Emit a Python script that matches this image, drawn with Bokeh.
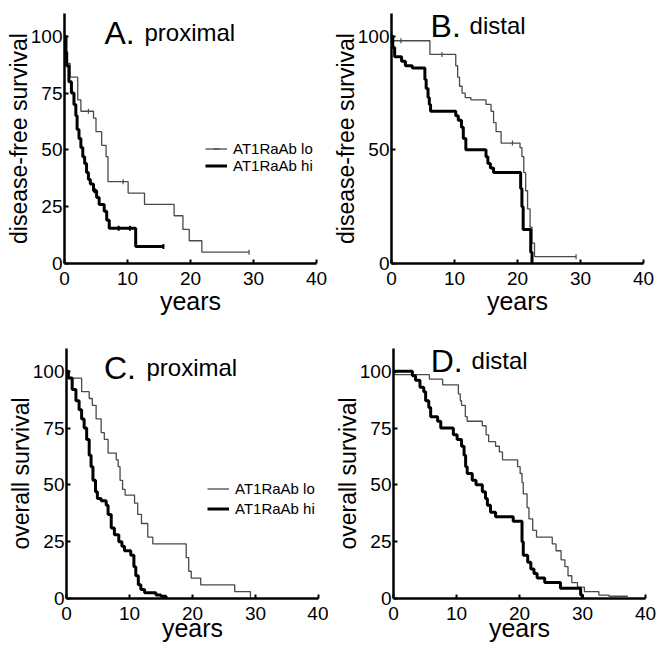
import numpy as np
from bokeh.plotting import figure
from bokeh.models import Range1d, FixedTicker, Label, Legend, LegendItem
from bokeh.layouts import row, column
from bokeh.embed import file_html
from bokeh.resources import INLINE

FONT = "Liberation Sans"

# ---------------- data ----------------
year_ticks = [0, 10, 20, 30, 40]
surv_ticks = [0, 25, 50, 75, 100]
surv_ticks_b = [0, 50, 100]
legend_labels = ["AT1RaAb lo", "AT1RaAb hi"]

# A. proximal, disease-free survival
a_lo_t = [0, 0.4, 0.9, 2.1, 2.6, 4.6, 5.0, 5.9, 6.6, 6.9, 10.1, 12.7, 17.4, 18.8, 19.8, 21.8, 29.3]
a_lo_s = [100, 88, 82, 72, 67, 64, 58, 52, 47, 36, 31, 26, 21, 15, 10, 5, 5]
a_lo_cens = [3.8, 9.3, 29.3]
a_hi_t = [0, 0.15, 0.35, 0.7, 1.1, 1.5, 1.8, 2.0, 2.3, 2.6, 2.9, 3.2, 3.5, 3.8, 4.1, 4.6, 5.1, 5.5, 6.3, 6.7, 7.1, 11.3, 15.7]
a_hi_s = [100, 93, 87, 80, 75, 70, 65, 59, 55, 51, 47, 44, 40, 37, 35, 32, 29, 26, 23, 19, 15.5, 7.5, 7.5]
a_hi_cens = [4.8, 8.6, 10.4, 15.7]

# B. distal, disease-free survival
b_lo_t = [0, 0.3, 6.1, 10.2, 10.5, 10.8, 11.2, 11.7, 12.6, 15.0, 15.8, 16.2, 16.6, 17.4, 20.4, 20.7, 21.0, 21.3, 21.6, 22.0, 22.3, 22.7, 29.3]
b_lo_s = [100, 98, 92, 87, 82, 78, 75, 73, 72, 70, 67, 62, 58, 53, 51, 47, 40, 32, 24, 16, 9, 3, 3]
b_lo_cens = [1.5, 8.0, 19.2, 29.3]
b_hi_t = [0, 0.2, 0.5, 1.6, 2.2, 3.3, 5.3, 5.5, 5.8, 6.0, 6.2, 10.2, 10.6, 11.1, 11.4, 11.8, 15.0, 15.3, 15.7, 16.2, 20.5, 20.7, 20.9, 22.1, 22.3]
b_hi_s = [100, 95, 91, 89, 87, 86, 81, 77, 73, 70, 67, 65, 63, 60, 55, 50, 47, 44, 42, 40, 33, 25, 15, 5, 0]
b_hi_cens = []

# C. proximal, overall survival
c_lo_t = [0, 0.3, 2.4, 3.6, 4.1, 4.7, 5.5, 6.0, 6.6, 7.9, 8.2, 8.5, 8.9, 9.3, 10.8, 11.3, 11.9, 12.9, 13.7, 19.0, 19.4, 19.8, 21.3, 26.7, 29.2]
c_lo_s = [100, 97, 91, 88, 85, 79, 73, 70, 64, 61, 58, 52, 48, 45.5, 42, 37, 33, 27, 24, 18, 12, 9, 6, 3, 0]
c_lo_cens = []
c_hi_t = [0, 0.3, 0.9, 1.5, 2.0, 2.4, 2.8, 3.2, 3.6, 3.9, 4.2, 4.6, 4.9, 5.5, 6.3, 6.6, 7.1, 7.6, 8.3, 8.8, 9.2, 10.2, 10.7, 11.0, 11.4, 11.8, 12.4, 14.2, 15.0, 15.8]
c_hi_s = [100, 97, 92, 87, 83, 79, 75, 70, 63, 58, 52, 47, 44, 43, 41, 37, 31, 28, 25, 23, 21, 19, 14, 10, 6, 4, 2.5, 1.5, 1, 0]
c_hi_cens = []

# D. distal, overall survival
d_lo_t = [0, 0.2, 5.7, 7.8, 10.3, 10.6, 10.8, 11.4, 11.7, 14.1, 14.7, 15.1, 16.2, 16.8, 17.3, 19.7, 20.1, 20.4, 20.6, 21.2, 21.5, 22.1, 22.7, 25.2, 25.8, 26.6, 27.2, 27.7, 28.3, 29.2, 30.3, 32.6, 34.2, 37.2]
d_lo_s = [100, 98.5, 96.5, 94, 90, 87, 85, 80, 78, 76, 72, 69, 67, 64.5, 61, 58, 55, 51, 46, 40, 35, 30, 27, 24, 21, 17, 14, 10, 7, 5, 3, 1.5, 1, 1]
d_lo_cens = []
d_hi_t = [0, 3.0, 3.5, 4.2, 4.8, 5.1, 5.6, 5.9, 7.0, 7.5, 9.5, 10.1, 10.8, 11.2, 11.45, 11.7, 12.5, 13.1, 14.1, 14.6, 14.9, 15.4, 16.2, 19.0, 20.4, 20.6, 21.3, 21.8, 22.3, 22.8, 24.0, 26.5, 29.7, 30.0]
d_hi_s = [100, 98, 96, 93, 91, 87, 84, 80, 78, 75, 72, 70, 67, 63, 58, 55, 52, 50, 47, 44, 41, 38, 36, 34, 25, 19, 16, 13, 11, 9, 7, 4.5, 1.5, 0]
d_hi_cens = []

LO_COLOR = "#4a4a4a"
HI_COLOR = "#000000"


def km_at(t, s, tc):
    t = np.asarray(t, dtype=float)
    s = np.asarray(s, dtype=float)
    idx = np.searchsorted(t, np.asarray(tc, dtype=float), side="right") - 1
    idx = np.clip(idx, 0, len(s) - 1)
    return s[idx].tolist()


def make_panel(lo, hi, letter, word, ylabel, yticks, width, height, borders,
               letter_pos, word_x, xlabel_standoff, legend_loc=None, legend_spacing=0):
    left, right, top, bottom = borders
    p = figure(width=width, height=height, output_backend="svg", toolbar_location=None,
               x_range=Range1d(0, 40), y_range=Range1d(0, 110),
               min_border_left=left, min_border_right=right,
               min_border_top=top, min_border_bottom=bottom,
               background_fill_color="white", border_fill_color="white")
    p.outline_line_color = None
    p.grid.visible = False

    renderers = []
    for (t, s, cens), color, lw, cw in ((lo, LO_COLOR, 1.3, 1.2), (hi, HI_COLOR, 3.0, 2.0)):
        r1 = p.step(t, s, mode="after", line_color=color, line_width=lw)
        r2 = p.scatter(list(cens), km_at(t, s, cens), marker="dash", angle=np.pi / 2,
                       size=5, line_color=color, line_width=cw)
        renderers.append((r1, r2))

    for ax in (p.xaxis[0], p.yaxis[0]):
        ax.axis_line_width = 2.5
        ax.axis_line_color = "black"
        ax.major_tick_in = 4
        ax.major_tick_out = 0
        ax.major_tick_line_width = 2
        ax.major_tick_line_color = "black"
        ax.minor_tick_line_color = None
        ax.major_label_text_font = FONT
        ax.major_label_text_color = "black"
        ax.major_label_text_font_size = "19px"
        ax.axis_label_text_font = FONT
        ax.axis_label_text_font_style = "normal"
        ax.axis_label_text_color = "black"

    p.xaxis.ticker = FixedTicker(ticks=year_ticks)
    p.xaxis.axis_label = "years"
    p.xaxis.axis_label_text_font_size = "25px"
    p.xaxis.major_label_standoff = 8
    p.xaxis.axis_label_standoff = xlabel_standoff

    p.yaxis.ticker = FixedTicker(ticks=yticks)
    p.yaxis.axis_label = ylabel
    p.yaxis.axis_label_text_font_size = "23px"
    p.yaxis.major_label_standoff = 2
    p.yaxis.axis_label_standoff = -4

    lx, ly = letter_pos
    p.add_layout(Label(x=lx, y=ly, text=letter, text_font=FONT, text_font_size="32px",
                       text_color="black", text_baseline="alphabetic", text_align="left"))
    p.add_layout(Label(x=word_x, y=ly, text=word, text_font=FONT, text_font_size="24px",
                       text_color="black", text_baseline="alphabetic", text_align="left"))

    if legend_loc is not None:
        items = [LegendItem(label=lab, renderers=list(rr)) for lab, rr in zip(legend_labels, renderers)]
        leg = Legend(items=items, location=legend_loc, orientation="vertical",
                     padding=0, margin=0, spacing=legend_spacing,
                     glyph_width=22, glyph_height=15, label_height=15, label_width=100,
                     label_standoff=6,
                     label_text_font=FONT, label_text_font_size="15px", label_text_color="black",
                     border_line_color=None, background_fill_alpha=0)
        p.add_layout(leg, "center")
    return p


pa = make_panel((a_lo_t, a_lo_s, a_lo_cens), (a_hi_t, a_hi_s, a_hi_cens), "A.", "proximal",
                "disease-free survival", surv_ticks, 328, 344, (64, 12, 13, 81),
                (6.35, 101.6), 12.7, -1, legend_loc=(141, 89.5), legend_spacing=0)
pb = make_panel((b_lo_t, b_lo_s, b_lo_cens), (b_hi_t, b_hi_s, b_hi_cens), "B.", "distal",
                "disease-free survival", surv_ticks_b, 328, 344, (63, 13, 13, 81),
                (6.2, 104.7), 12.4, -1)
pc = make_panel((c_lo_t, c_lo_s, c_lo_cens), (c_hi_t, c_hi_s, c_hi_cens), "C.", "proximal",
                "overall survival", surv_ticks, 328, 304, (66, 10, 4, 50),
                (5.95, 101.6), 12.7, -9, legend_loc=(141, 81.5), legend_spacing=3)
pd_ = make_panel((d_lo_t, d_lo_s, d_lo_cens), (d_hi_t, d_hi_s, d_hi_cens), "D.", "distal",
                 "overall survival", surv_ticks, 328, 304, (65, 11, 4, 50),
                 (5.9, 104.7), 12.4, -9)

layout = column(row(pa, pb), row(pc, pd_))
open("out.html", "w").write(file_html(layout, INLINE))
